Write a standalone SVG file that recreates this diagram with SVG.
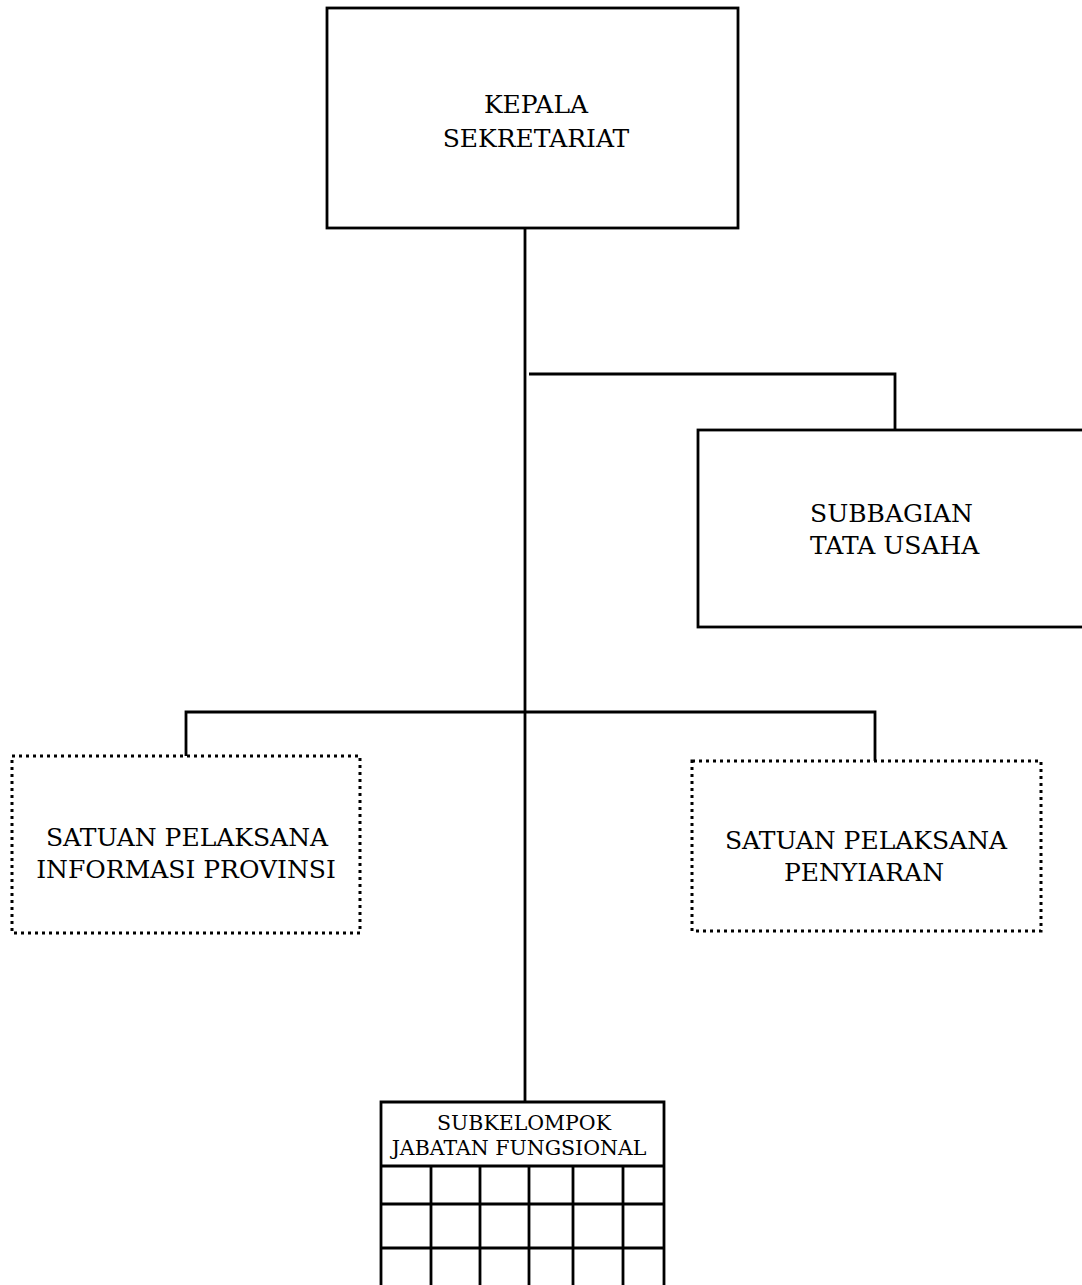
<svg xmlns="http://www.w3.org/2000/svg" width="1082" height="1285" viewBox="0 0 1082 1285">
<style>
.box{fill:#fff;stroke:#000;stroke-width:2.8}
.dot{fill:#fff;stroke:#000;stroke-width:3;stroke-dasharray:3 4}
.ln{fill:none;stroke:#000;stroke-width:2.8}
.t{font-family:"DejaVu Serif","Liberation Serif",serif;font-size:25px;fill:#000}
.s{font-family:"DejaVu Serif","Liberation Serif",serif;font-size:20.5px;fill:#000}
</style>
<rect width="1082" height="1285" fill="#fff"/>
<g id="connectors">
<path class="ln" d="M525 228V1102"/>
<path class="ln" d="M529 374H895V430"/>
<path class="ln" d="M186 756V712H875V761"/>
</g>
<g id="kepala">
<rect class="box" x="327" y="8" width="411" height="220"/>
<text class="t" x="536" y="113" text-anchor="middle">KEPALA</text>
<text class="t" x="536" y="147" text-anchor="middle">SEKRETARIAT</text>
</g>
<g id="subbagian">
<rect class="box" x="698" y="430" width="390" height="197"/>
<text class="t" x="810" y="522">SUBBAGIAN</text>
<text class="t" x="810" y="554">TATA USAHA</text>
</g>
<g id="satpel-info">
<rect class="dot" x="12" y="756" width="348" height="177"/>
<text class="t" x="187" y="846" text-anchor="middle">SATUAN PELAKSANA</text>
<text class="t" x="186" y="878" text-anchor="middle">INFORMASI PROVINSI</text>
</g>
<g id="satpel-penyiaran">
<rect class="dot" x="692" y="761" width="349" height="170"/>
<text class="t" x="866" y="849" text-anchor="middle">SATUAN PELAKSANA</text>
<text class="t" x="864" y="881" text-anchor="middle">PENYIARAN</text>
</g>
<g id="subkelompok">
<path class="ln" d="M381 1290V1102H664V1290"/>
<path class="ln" d="M381 1166H664M381 1204H664M381 1248H664M431 1166V1290M480 1166V1290M529 1166V1290M573 1166V1290M623 1166V1290"/>
<text class="s" x="524" y="1130" text-anchor="middle">SUBKELOMPOK</text>
<text class="s" x="519" y="1155" text-anchor="middle">JABATAN FUNGSIONAL</text>
</g>
</svg>
